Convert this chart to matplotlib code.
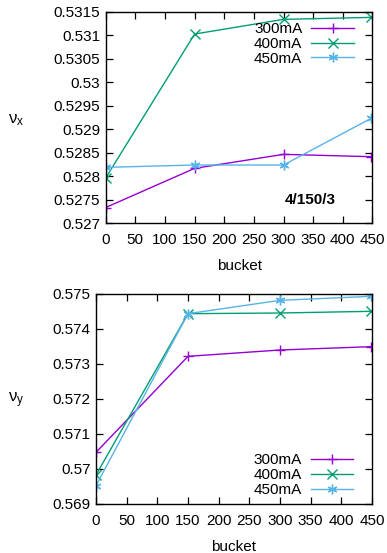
import matplotlib
matplotlib.use("Agg")
import matplotlib.pyplot as plt
from matplotlib.ticker import FuncFormatter, MultipleLocator

plt.rcParams['font.family'] = ['Liberation Sans', 'DejaVu Sans']
plt.rcParams['mathtext.fontset'] = 'custom'
plt.rcParams['mathtext.rm'] = 'Liberation Sans'

buckets = [0, 150, 300, 448]
labels = ["300mA", "400mA", "450mA"]
nux = {
    "300mA": [0.52733, 0.528164, 0.528462, 0.528412],
    "400mA": [0.527958, 0.531024, 0.531337, 0.531379],
    "450mA": [0.528185, 0.528235, 0.528235, 0.529229],
}
nuy = {
    "300mA": [0.570476, 0.573219, 0.573400, 0.573495],
    "400mA": [0.569829, 0.574438, 0.574457, 0.574505],
    "450mA": [0.569524, 0.574438, 0.574819, 0.574933],
}
colors = {"300mA": "#9400d3", "400mA": "#009e73", "450mA": "#56b4e9"}
markers = {"300mA": "+", "400mA": "x", "450mA": (6, 2, 0)}

W, H = 387, 553
fig = plt.figure(figsize=(W / 100, H / 100), dpi=100)

def px_axes(left, top, right, bottom):
    return fig.add_axes([left / W, 1 - bottom / H, (right - left) / W, (bottom - top) / H])

fmt = FuncFormatter(lambda v, p: "%g" % round(v, 6))

def style(ax, ylim, ystep):
    ax.set_xlim(0, 450)
    ax.set_ylim(*ylim)
    ax.xaxis.set_major_locator(MultipleLocator(50))
    ax.yaxis.set_major_locator(MultipleLocator(ystep))
    ax.yaxis.set_major_formatter(fmt)
    ax.tick_params(direction='in', length=5, width=0.9, top=True, right=True,
                   labelsize=11, colors='black')
    ax.tick_params(axis='x', pad=7)
    ax.tick_params(axis='y', pad=4)
    for s in ax.spines.values():
        s.set_linewidth(1.0)
    ax.set_xlabel("bucket", fontsize=11, labelpad=9)

ax1 = px_axes(105.7, 11.7, 372.4, 223)
for k in labels:
    ax1.plot(buckets, nux[k], color=colors[k], marker=markers[k], ms=7, mew=1.0, lw=1.0, label=k)
style(ax1, (0.527, 0.5315), 0.0005)
ax1.text(302, 0.52749, "4/150/3", fontsize=11, fontweight='bold', va='center', ha='left')
ax1.legend(loc='upper right', bbox_to_anchor=(0.966, 0.994), frameon=False, markerfirst=False,
           fontsize=11, handlelength=2.8, handletextpad=0.6, labelspacing=0.05, borderaxespad=0.2)
fig.text(16 / W, 1 - 120 / H, r"$\mathregular{ν_x}$", fontsize=12, ha='center', va='center')

ax2 = px_axes(96, 294, 372, 504)
for k in labels:
    ax2.plot(buckets, nuy[k], color=colors[k], marker=markers[k], ms=7, mew=1.0, lw=1.0, label=k)
style(ax2, (0.569, 0.575), 0.001)
ax2.legend(loc='lower right', bbox_to_anchor=(0.966, -0.01), frameon=False, markerfirst=False,
           fontsize=11, handlelength=2.8, handletextpad=0.6, labelspacing=0.05, borderaxespad=0.2)
fig.text(16 / W, 1 - 400 / H, r"$\mathregular{ν_y}$", fontsize=12, ha='center', va='center')

fig.savefig("out.png", dpi=100)
